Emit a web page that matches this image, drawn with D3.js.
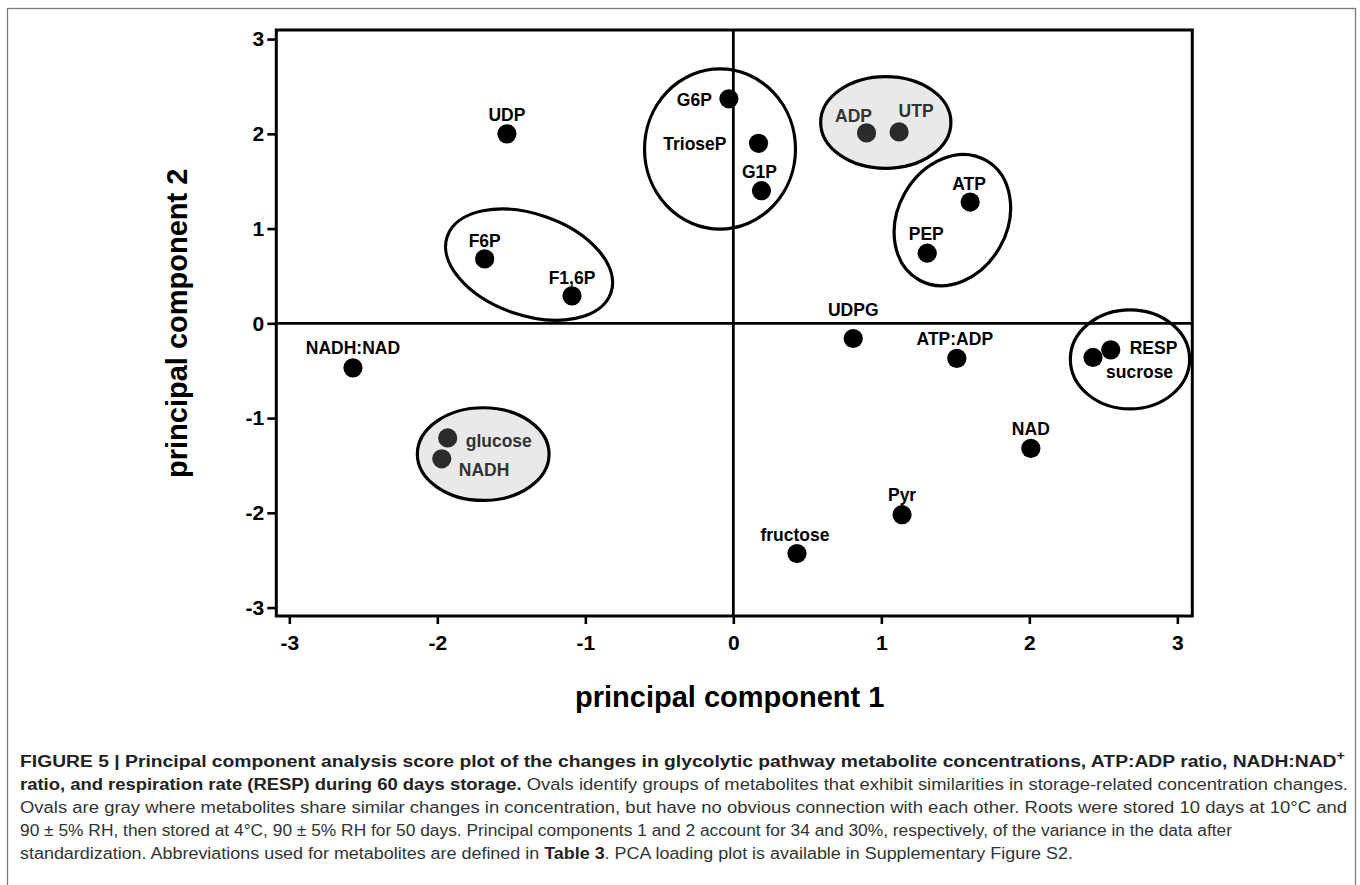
<!DOCTYPE html>
<html>
<head>
<meta charset="utf-8">
<script src="https://cdn.jsdelivr.net/npm/d3@7"></script>
<style>
  body { margin: 0; background: #fff; }
  svg { display: block; font-family: "Liberation Sans", Arial, sans-serif; }
</style>
</head>
<body>
<svg id="chart" width="1360" height="885"></svg>
<script>
// metabolite scores
const names = ["UDP", "G6P", "TrioseP", "G1P", "F6P", "F1,6P", "ADP", "UTP", "ATP", "PEP",
  "UDPG", "NADH:NAD", "glucose", "NADH", "fructose", "Pyr", "ATP:ADP", "NAD", "RESP", "sucrose"];
const pc1 = [-1.53, -0.03, 0.17, 0.19, -1.68, -1.09, 0.90, 1.12, 1.60, 1.31,
  0.81, -2.57, -1.93, -1.97, 0.43, 1.14, 1.51, 2.01, 2.55, 2.43];
const pc2 = [2.00, 2.37, 1.90, 1.40, 0.68, 0.29, 2.01, 2.02, 1.28, 0.74,
  -0.16, -0.47, -1.21, -1.43, -2.43, -2.02, -0.37, -1.32, -0.28, -0.36];
const grayGroup = ["ADP", "UTP", "glucose", "NADH"];

// ovals (centre and radii in score units, tilt in degrees)
const ovalCx = [-0.09, -1.38, 1.03, 1.48, 2.68, -1.69];
const ovalCy = [1.84, 0.62, 2.12, 1.09, -0.38, -1.38];
const ovalRx = [0.51, 0.585, 0.44, 0.463, 0.403, 0.445];
const ovalRy = [0.845, 0.535, 0.484, 0.577, 0.523, 0.489];
const ovalTilt = [0, 19, 0, -61, 0, 0];
const ovalGray = [false, false, true, false, false, true];

const ticks = [-3, -2, -1, 0, 1, 2, 3];
const xTitle = "principal component 1";
const yTitle = "principal component 2";

// label placement: dx, dy from the dot, text-anchor
const labelPos = {
  "UDP": [0, -13, "middle"], "G6P": [-17, 7, "end"], "TrioseP": [-32, 7, "end"],
  "G1P": [-2, -13, "middle"], "F6P": [0, -12, "middle"], "F1,6P": [0, -12, "middle"],
  "ADP": [-13, -11, "middle"], "UTP": [17, -15, "middle"], "ATP": [-1, -12, "middle"],
  "PEP": [-1, -13, "middle"], "UDPG": [0, -22, "middle"], "NADH:NAD": [0, -14, "middle"],
  "glucose": [18, 9, "start"], "NADH": [17, 17, "start"], "fructose": [-2, -13, "middle"],
  "Pyr": [0, -14, "middle"], "ATP:ADP": [-2, -13, "middle"], "NAD": [0, -13, "middle"],
  "RESP": [19, 4, "start"], "sucrose": [13, 21, "start"]
};

const data = names.map((n, i) => ({name: n, x: pc1[i], y: pc2[i], gray: grayGroup.includes(n)}));

const svg = d3.select("#chart");

// outer frame
svg.append("rect")
  .attr("x", 7.5).attr("y", 8.5)
  .attr("width", 1348).attr("height", 900)
  .attr("fill", "none").attr("stroke", "#7a7a7a").attr("stroke-width", 1.3);

const x = d3.scaleLinear().domain([-3.088, 3.101]).range([276.3, 1192.3]);
const y = d3.scaleLinear().domain([-3.089, 3.096]).range([616, 30]);

// plot box
svg.append("rect")
  .attr("x", x.range()[0]).attr("y", y.range()[1])
  .attr("width", x.range()[1] - x.range()[0])
  .attr("height", y.range()[0] - y.range()[1])
  .attr("fill", "none").attr("stroke", "#000").attr("stroke-width", 3);

// zero lines
svg.append("line")
  .attr("x1", x.range()[0]).attr("x2", x.range()[1])
  .attr("y1", y(0)).attr("y2", y(0))
  .attr("stroke", "#000").attr("stroke-width", 2.8);
svg.append("line")
  .attr("x1", x(0)).attr("x2", x(0))
  .attr("y1", y.range()[0]).attr("y2", y.range()[1])
  .attr("stroke", "#000").attr("stroke-width", 2.8);

const xAxis = g => g.attr("transform", `translate(0,${y.range()[0]})`)
  .call(d3.axisBottom(x).tickValues(ticks).tickFormat(d => String(d))
    .tickSize(8).tickPadding(11).tickSizeOuter(0));
const yAxis = g => g.attr("transform", `translate(${x.range()[0]},0)`)
  .call(d3.axisLeft(y).tickValues(ticks).tickFormat(d => String(d))
    .tickSize(9).tickPadding(3).tickSizeOuter(0));

[xAxis, yAxis].forEach(ax => {
  const g = svg.append("g").call(ax);
  g.select(".domain").remove();
  g.selectAll(".tick line").attr("stroke", "#000").attr("stroke-width", 2.6);
  g.selectAll(".tick text")
    .attr("fill", "#000")
    .style("font-size", "21px")
    .style("font-weight", "bold")
    .style("font-family", "'Liberation Sans', Arial, sans-serif");
});

// axis titles
svg.append("text")
  .attr("x", 729.7).attr("y", 706.5)
  .attr("text-anchor", "middle")
  .style("font-size", "29px").style("font-weight", "bold")
  .text(xTitle);
svg.append("text")
  .attr("transform", `translate(187,${y(0)}) rotate(-90)`)
  .attr("text-anchor", "middle")
  .style("font-size", "29px").style("font-weight", "bold")
  .text(yTitle);

// ovals
svg.append("g").selectAll("ellipse")
  .data(ovalCx.map((c, i) => i))
  .join("ellipse")
  .attr("transform", i => `translate(${x(ovalCx[i])},${y(ovalCy[i])}) rotate(${ovalTilt[i]})`)
  .attr("rx", i => x(ovalCx[i] + ovalRx[i]) - x(ovalCx[i]))
  .attr("ry", i => y(ovalCy[i]) - y(ovalCy[i] + ovalRy[i]))
  .attr("fill", i => ovalGray[i] ? "#e9e9e9" : "none")
  .attr("stroke", "#000")
  .attr("stroke-width", 3.2);

// dots
svg.append("g").selectAll("circle")
  .data(data)
  .join("circle")
  .attr("cx", d => x(d.x))
  .attr("cy", d => y(d.y))
  .attr("r", 9.6)
  .attr("fill", d => d.gray ? "#2b2b2b" : "#000");

// labels
svg.append("g").selectAll("text")
  .data(data)
  .join("text")
  .attr("x", d => x(d.x) + labelPos[d.name][0])
  .attr("y", d => y(d.y) + labelPos[d.name][1])
  .attr("text-anchor", d => labelPos[d.name][2])
  .attr("fill", d => d.gray ? "#333" : "#000")
  .style("font-size", "17.5px")
  .style("font-weight", "bold")
  .text(d => d.name);

// caption
const captionLines = [
  [["b", "FIGURE 5 | Principal component analysis score plot of the changes in glycolytic pathway metabolite concentrations, ATP:ADP ratio, NADH:NAD"], ["sup", "+"]],
  [["b", "ratio, and respiration rate (RESP) during 60 days storage."], ["r", " Ovals identify groups of metabolites that exhibit similarities in storage-related concentration changes."]],
  [["r", "Ovals are gray where metabolites share similar changes in concentration, but have no obvious connection with each other. Roots were stored 10 days at 10°C and"]],
  [["r", "90 ± 5% RH, then stored at 4°C, 90 ± 5% RH for 50 days. Principal components 1 and 2 account for 34 and 30%, respectively, of the variance in the data after"]],
  [["r", "standardization. Abbreviations used for metabolites are defined in "], ["b", "Table 3"], ["r", ". PCA loading plot is available in Supplementary Figure S2."]]
];
const captionWidth = [1325, 1328, 1327, 1212, 1053];
const captionBase = [766.5, 790, 812.7, 835.5, 858.5];

captionLines.forEach((parts, i) => {
  const t = svg.append("text")
    .attr("x", 20).attr("y", captionBase[i])
    .attr("textLength", captionWidth[i])
    .attr("lengthAdjust", "spacingAndGlyphs")
    .style("font-size", "16px");
  parts.forEach(([kind, str]) => {
    const s = t.append("tspan").text(str);
    if (kind === "b") s.style("font-weight", "bold").attr("fill", "#222");
    else if (kind === "sup") s.style("font-weight", "bold").attr("fill", "#222")
      .style("font-size", "12px").attr("dy", -7);
    else s.attr("fill", "#333");
  });
});
</script>
</body>
</html>
